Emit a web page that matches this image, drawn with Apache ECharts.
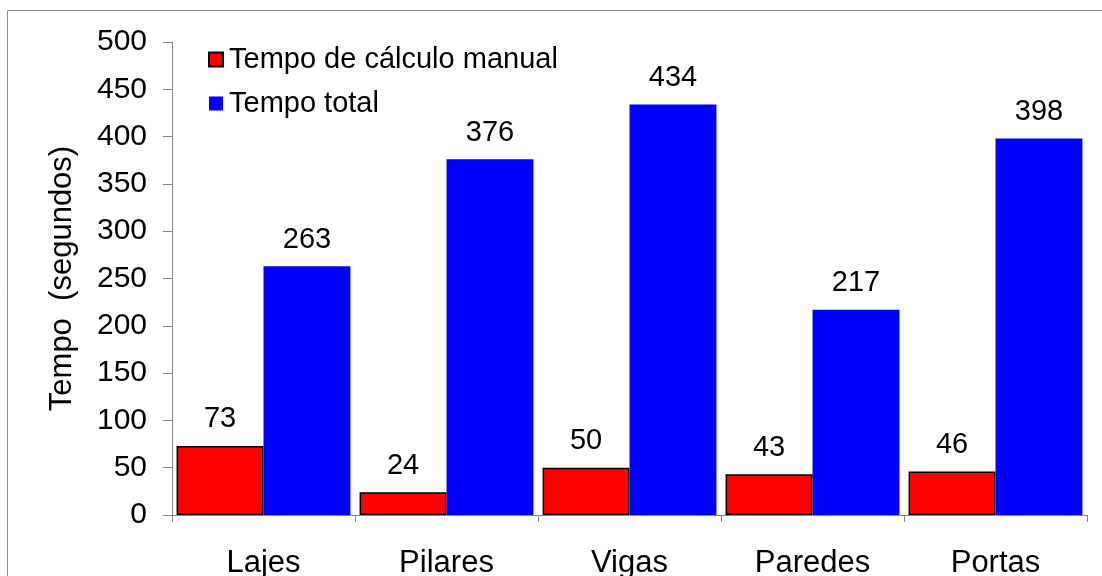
<!DOCTYPE html>
<html>
<head>
<meta charset="utf-8">
<script src="https://cdn.jsdelivr.net/npm/echarts@6/dist/echarts.min.js"></script>
<style>
  html, body { margin: 0; padding: 0; background: #fff; }
  #chart { width: 1102px; height: 576px; }
</style>
</head>
<body>
<div id="chart"></div>
<script>
// Tempos por elemento estrutural (segundos)
const categories = ['Lajes', 'Pilares', 'Vigas', 'Paredes', 'Portas'];
const manualTime = [73, 24, 50, 43, 46];
const totalTime = [263, 376, 434, 217, 398];
const seriesNames = ['Tempo de cálculo manual', 'Tempo total'];
const axisTitle = 'Tempo  (segundos)';

const FONT = '"Liberation Sans", Arial, sans-serif';
const AXIS_GRAY = '#868686';

const chart = echarts.init(document.getElementById('chart'), null, { renderer: 'canvas' });

chart.setOption({
  backgroundColor: '#ffffff',
  animation: false,
  textStyle: { fontFamily: FONT, color: '#000' },
  graphic: [{
    type: 'rect',
    silent: true,
    shape: { x: 7.5, y: 10.5, width: 1200, height: 700 },
    style: { fill: 'none', stroke: '#8c8c8c', lineWidth: 1 }
  }],
  grid: { left: 172, right: 15, top: 42, bottom: 61, containLabel: false, outerBoundsMode: 'none' },
  legend: {
    orient: 'vertical',
    left: 203,
    top: 40,
    icon: 'rect',
    itemWidth: 14,
    itemHeight: 14,
    itemGap: 15,
    selectedMode: false,
    textStyle: { fontFamily: FONT, fontSize: 29, color: '#000', padding: [0, 0, 0, 1] },
    data: seriesNames
  },
  xAxis: {
    type: 'category',
    data: categories,
    axisLine: { lineStyle: { color: AXIS_GRAY, width: 1 } },
    axisTick: { show: true, length: 7, alignWithLabel: false, lineStyle: { color: AXIS_GRAY } },
    axisLabel: { fontFamily: FONT, fontSize: 31, color: '#000', margin: 33 }
  },
  yAxis: {
    type: 'value',
    min: 0,
    max: 500,
    interval: 50,
    name: axisTitle,
    nameLocation: 'middle',
    nameGap: 94,
    nameRotate: 90,
    nameTextStyle: { fontFamily: FONT, fontSize: 31, color: '#000' },
    axisLine: { show: true, lineStyle: { color: AXIS_GRAY, width: 1 } },
    axisTick: { show: true, length: 9, lineStyle: { color: AXIS_GRAY } },
    splitLine: { show: false },
    axisLabel: { fontFamily: FONT, fontSize: 30, color: '#000', margin: 25 }
  },
  series: [
    {
      name: seriesNames[0],
      type: 'bar',
      data: manualTime,
      barGap: '0%',
      barCategoryGap: '5%',
      itemStyle: { color: '#ff0000', borderColor: '#000', borderWidth: 1.5 },
      label: { show: true, position: 'top', distance: 12, fontFamily: FONT, fontSize: 29, color: '#000' }
    },
    {
      name: seriesNames[1],
      type: 'bar',
      data: totalTime,
      barGap: '0%',
      barCategoryGap: '5%',
      itemStyle: { color: '#0000ff' },
      label: { show: true, position: 'top', distance: 12, fontFamily: FONT, fontSize: 29, color: '#000' }
    }
  ]
});
</script>
</body>
</html>
